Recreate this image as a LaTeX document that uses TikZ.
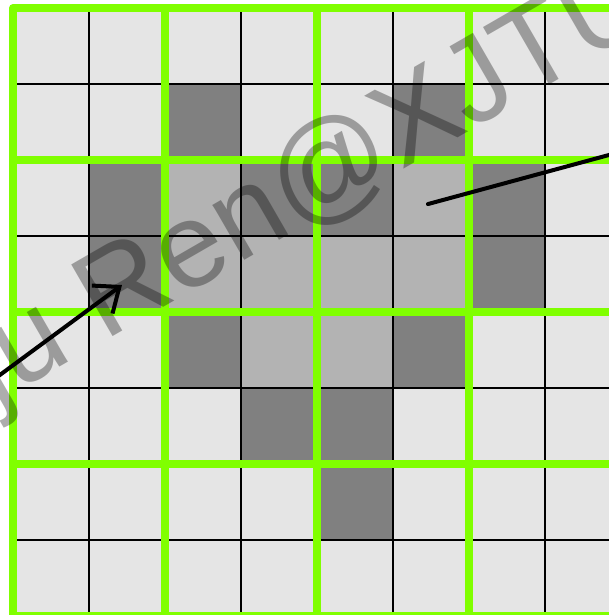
\documentclass[tikz,border=0pt]{standalone}
\usepackage{fontspec}
\usepackage{xcolor}
\usetikzlibrary{arrows.meta}
\newfontfamily\markfont{Liberation Sans}
\definecolor{blockgreen}{HTML}{80FF00}
\definecolor{cellbg}{HTML}{E5E5E5}
\definecolor{celldark}{HTML}{808080}
\definecolor{cellmid}{HTML}{B3B3B3}

\begin{document}
\begin{tikzpicture}[
    x=1cm, y=1cm,
    darkcell/.style={fill=celldark},
    midcell/.style={fill=cellmid},
    cellline/.style={black, line width=0.8pt},
    blockline/.style={blockgreen, line width=3pt, line join=round},
    pointer/.style={-{Straight Barb[length=8pt,width=13pt]}, line width=1.5pt, line cap=round},
    watermark/.style={font=\markfont\fontsize{45}{52}\selectfont, text=black, opacity=0.32, inner sep=0pt}
  ]

  % --- Frame ---
  \useasboundingbox (-0.171,0.013) rectangle (7.842,8.105);
  \begin{scope}
  \clip (-0.171,0.013) rectangle (7.842,8.105);

  % --- Background cells ---
  \fill[cellbg] (0,0) rectangle (8,8);

  % --- Dark cells (col,row from top) ---
  \foreach \c/\r in {2/1,5/1, 1/2,3/2,4/2,6/2, 1/3,6/3, 2/4,5/4, 3/5,4/5, 4/6}
    \fill[darkcell] (\c,7-\r) rectangle ++(1,1);

  % --- Mid cells ---
  \foreach \c/\r in {2/2,5/2, 2/3,3/3,4/3,5/3, 3/4,4/4}
    \fill[midcell] (\c,7-\r) rectangle ++(1,1);

  % --- Cell grid ---
  \draw[cellline] (0,0) grid (8,8);

  % --- 2x2 blocks ---
  \foreach \i in {0,2,4,6}
    \foreach \j in {0,2,4,6}
      \draw[blockline] (\i,\j) rectangle ++(2,2);

  % --- Pointers ---
  \coordinate (lefttail) at (-0.5,2.93);
  \coordinate (lefthead) at (1.434,4.355);
  \coordinate (righttail) at (5.46,5.42);
  \coordinate (righthead) at (8.5,6.244);
  \draw[pointer] (lefttail) -- (lefthead);
  \draw[pointer] (righttail) -- (righthead);

  % --- Watermark ---
  \node[watermark, rotate=30, anchor=base west] (mark) at (-0.245,2.77) {ju Ren@XJTU};
  \end{scope}
\end{tikzpicture}
\end{document}
